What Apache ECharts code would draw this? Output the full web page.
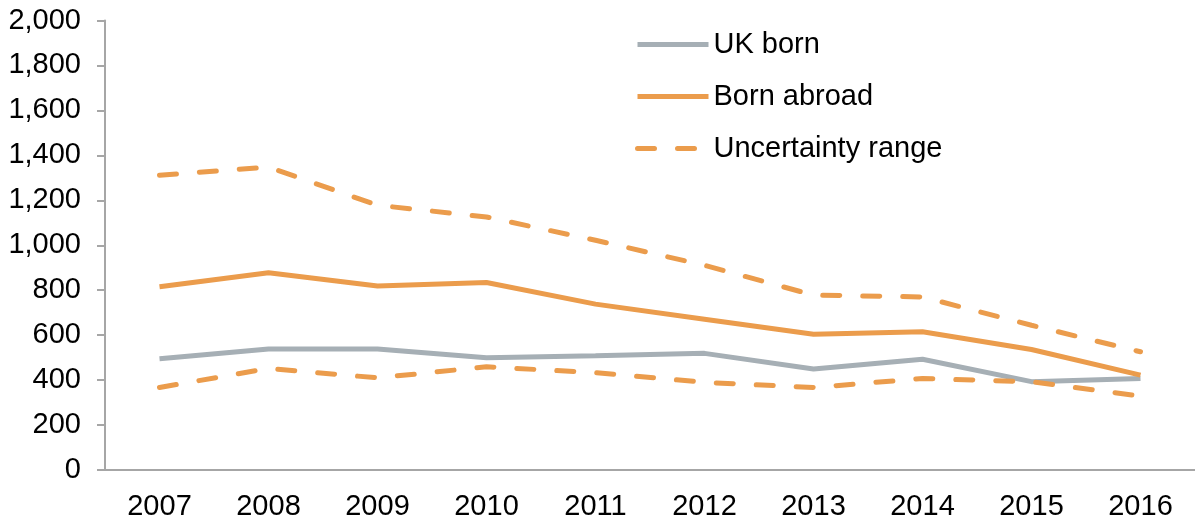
<!DOCTYPE html>
<html>
<head>
<meta charset="utf-8">
<script src="https://cdn.jsdelivr.net/npm/echarts@6/dist/echarts.min.js"></script>
<style>
  html, body { margin: 0; padding: 0; background: #fff; }
  #chart { width: 1195px; height: 523px; }
</style>
</head>
<body>
<div id="chart"></div>
<script>
var years = ['2007', '2008', '2009', '2010', '2011', '2012', '2013', '2014', '2015', '2016']
var ukBorn = [495, 538, 538, 499, 508, 519, 449, 493, 393, 407]
var bornAbroad = [815, 878, 819, 834, 738, 671, 604, 615, 536, 422]
var upperRange = [1311, 1348, 1178, 1126, 1022, 911, 778, 770, 644, 526]
var lowerRange = [367, 452, 410, 459, 433, 390, 367, 407, 393, 329]

var grey = '#a6afb5'
var orange = '#eb9c4c'
var axisGrey = '#a6a6a6'
var font = 'Liberation Sans, Arial, sans-serif'

var chart = echarts.init(document.getElementById('chart'))

function lineSeries (name, data, color, dashed) {
  return {
    name: name,
    type: 'line',
    data: data,
    symbol: 'none',
    color: color,
    lineStyle: {
      color: color,
      width: 5,
      type: dashed ? [17, 23] : 'solid',
      cap: dashed ? 'round' : 'butt'
    }
  }
}

chart.setOption({
  animation: false,
  textStyle: { fontFamily: font },
  grid: { left: 105, right: -6, top: 20.5, bottom: 53 },
  legend: {
    orient: 'vertical',
    left: 630,
    top: 25,
    itemWidth: 71,
    itemHeight: 14,
    itemGap: 23,
    data: ['UK born', 'Born abroad', 'Uncertainty range'],
    lineStyle: { width: 5 },
    itemStyle: { opacity: 0 },
    textStyle: { fontSize: 29, color: '#000', fontFamily: font }
  },
  xAxis: {
    type: 'category',
    data: years,
    boundaryGap: true,
    axisLine: { lineStyle: { color: axisGrey, width: 2 } },
    axisTick: { alignWithLabel: true, length: 7, lineStyle: { color: axisGrey, width: 2 } },
    axisLabel: { fontSize: 29, color: '#000', margin: 22 }
  },
  yAxis: {
    type: 'value',
    min: 0,
    max: 2000,
    interval: 200,
    splitLine: { show: false },
    axisLine: { show: true, lineStyle: { color: axisGrey, width: 2 } },
    axisTick: { show: true, length: 8, lineStyle: { color: axisGrey, width: 2 } },
    axisLabel: {
      fontSize: 29,
      color: '#000',
      margin: 24,
      formatter: function (v) { return v.toLocaleString('en-US') }
    }
  },
  series: [
    lineSeries('UK born', ukBorn, grey, false),
    lineSeries('Born abroad', bornAbroad, orange, false),
    lineSeries('Uncertainty range', upperRange, orange, true),
    lineSeries('Uncertainty range', lowerRange, orange, true)
  ]
})
</script>
</body>
</html>
